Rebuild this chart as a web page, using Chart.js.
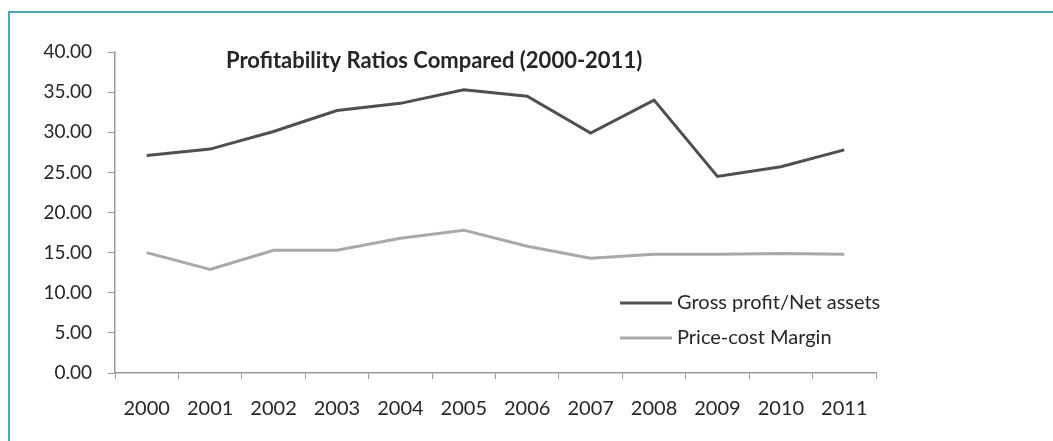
<!DOCTYPE html>
<html>
<head>
<meta charset="utf-8">
<script src="https://cdn.jsdelivr.net/npm/chart.js@4.4.1/dist/chart.umd.min.js"></script>
<style>
  html, body { margin: 0; padding: 0; background: #fff; }
  .wrap { position: relative; width: 1053px; height: 441px; overflow: hidden; }
  .frame {
    position: absolute; left: 8px; top: 11px; width: 1100px; height: 500px;
    border-top: 2px solid #4ba7bd; border-left: 2px solid #4ba7bd;
  }
  canvas { position: absolute; left: 0; top: 0; }
</style>
</head>
<body>
<div class="wrap">
  <div class="frame"></div>
  <canvas id="chart" width="1053" height="441"></canvas>
</div>
<script>
const years = ['2000', '2001', '2002', '2003', '2004', '2005', '2006', '2007', '2008', '2009', '2010', '2011'];
const grossProfitNetAssets = [27.1, 27.9, 30.1, 32.7, 33.6, 35.3, 34.5, 29.9, 34.0, 24.5, 25.7, 27.8];
const priceCostMargin = [15.0, 12.9, 15.3, 15.3, 16.8, 17.8, 15.8, 14.3, 14.8, 14.8, 14.9, 14.8];
const yTicks = [0, 5, 10, 15, 20, 25, 30, 35, 40];

const titleText = 'Profitability Ratios Compared (2000-2011)';
const fontFamily = 'Lato, "Open Sans", sans-serif';
const textColor = '#262626';

// title sits inside the plot area, top left
const titlePlugin = {
  id: 'insideTitle',
  afterDraw(chart) {
    const { ctx, chartArea } = chart;
    ctx.save();
    ctx.font = `bold 22px ${fontFamily}`;
    ctx.fillStyle = textColor;
    ctx.textAlign = 'left';
    ctx.textBaseline = 'middle';
    ctx.fillText(titleText, chartArea.left + 111, chartArea.top + 9);
    ctx.restore();
  }
};

// legend drawn in the lower right corner of the plot
const legendPlugin = {
  id: 'insideLegend',
  afterDraw(chart) {
    const { ctx, chartArea } = chart;
    const rows = [-70, -35];
    const textX = chartArea.right - 199;
    ctx.save();
    ctx.font = `20px ${fontFamily}`;
    ctx.textBaseline = 'middle';
    chart.data.datasets.forEach((ds, i) => {
      const y = chartArea.bottom + rows[i];
      ctx.strokeStyle = ds.borderColor;
      ctx.lineWidth = ds.borderWidth;
      ctx.beginPath();
      ctx.moveTo(textX - 57, y);
      ctx.lineTo(textX - 5, y);
      ctx.stroke();
      ctx.fillStyle = textColor;
      ctx.fillText(ds.label, textX, y);
    });
    ctx.restore();
  }
};

new Chart(document.getElementById('chart'), {
  type: 'line',
  data: {
    labels: years,
    datasets: [
      {
        label: 'Gross profit/Net assets',
        data: grossProfitNetAssets,
        borderColor: '#4f4f4f',
        borderWidth: 3,
        pointRadius: 0,
        tension: 0
      },
      {
        label: 'Price-cost Margin',
        data: priceCostMargin,
        borderColor: '#a9a9a9',
        borderWidth: 3,
        pointRadius: 0,
        tension: 0
      }
    ]
  },
  options: {
    responsive: false,
    animation: false,
    layout: { padding: { top: 52, right: 177, left: 0, bottom: 0 } },
    plugins: {
      legend: { display: false },
      title: { display: false },
      tooltip: { enabled: false }
    },
    scales: {
      x: {
        offset: true,
        grid: {
          offset: true,
          drawOnChartArea: false,
          drawTicks: true,
          tickLength: 6,
          color: '#9a9a9a'
        },
        border: { display: true, color: '#9a9a9a', width: 1.5 },
        ticks: {
          color: textColor,
          font: { family: fontFamily, size: 20 },
          padding: 18,
          maxRotation: 0
        },
        afterFit(scale) { scale.height = 68; }
      },
      y: {
        min: 0,
        max: 40,
        afterBuildTicks(scale) { scale.ticks = yTicks.map(v => ({ value: v })); },
        grid: {
          drawOnChartArea: false,
          drawTicks: true,
          tickLength: 7,
          color: '#9a9a9a'
        },
        border: { display: true, color: '#9a9a9a', width: 1.5 },
        ticks: {
          color: textColor,
          font: { family: fontFamily, size: 19 },
          padding: 16,
          callback: v => Number(v).toFixed(2)
        },
        afterFit(scale) { scale.width = 115; }
      }
    }
  },
  plugins: [titlePlugin, legendPlugin]
});
</script>
</body>
</html>
